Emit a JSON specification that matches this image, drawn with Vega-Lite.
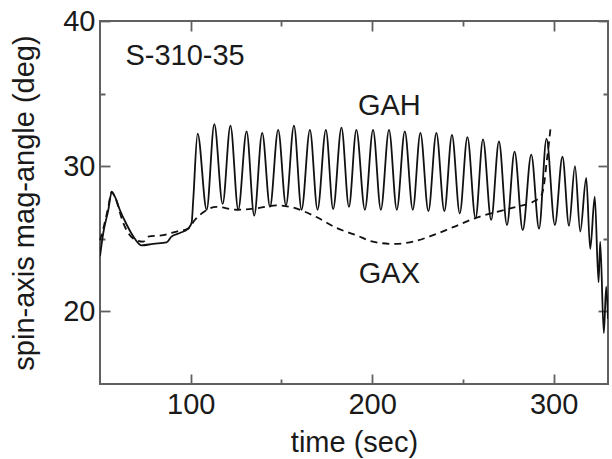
{
  "$schema": "https://vega.github.io/schema/vega-lite/v6.json",
  "width": 508,
  "height": 363,
  "autosize": {"type": "none"},
  "padding": {"left": 100, "top": 21, "right": 4, "bottom": 75},
  "background": "white",
  "config": {
    "view": {"stroke": "#606060", "strokeWidth": 2},
    "font": "Liberation Sans",
    "axis": {
      "domain": false,
      "grid": false,
      "tickColor": "#606060",
      "tickWidth": 1.8,
      "tickSize": 10,
      "offset": -10,
      "tickDash": {"condition": {"test": "datum.value % 10 === 0 && datum.value % 100 !== 50 && datum.value !== 25 && datum.value !== 35", "value": []}, "value": [0, 5, 5]},
      "labelFont": "Liberation Sans",
      "labelFontSize": 29,
      "labelColor": "#1a1a1a",
      "titleFont": "Liberation Sans",
      "titleFontSize": 29,
      "titleFontWeight": "normal",
      "titleColor": "#1a1a1a"
    }
  },
  "resolve": {"axis": {"x": "independent", "y": "independent"}},
  "datasets": {
    "gah": [
      {"t": 50, "v": 23.8}, {"t": 51.8, "v": 25.4}, {"t": 54.6, "v": 27.0}, {"t": 56.4, "v": 28.2},
      {"t": 58.2, "v": 27.9}, {"t": 60.9, "v": 27.0}, {"t": 64.6, "v": 26.0}, {"t": 69.2, "v": 25.0},
      {"t": 72.9, "v": 24.55}, {"t": 79.3, "v": 24.65}, {"t": 86.7, "v": 24.75}, {"t": 89.4, "v": 25.15},
      {"t": 94, "v": 25.4}, {"t": 98.6, "v": 25.7}, {"t": 100.5, "v": 26.1}, {"t": 101.4, "v": 27.7},
      {"t": 103.8, "v": 32.25}, {"t": 108.8, "v": 27.0}, {"t": 113.0, "v": 32.9}, {"t": 117.6, "v": 27.4},
      {"t": 121.9, "v": 32.8}, {"t": 126.2, "v": 27.0}, {"t": 130.8, "v": 32.4}, {"t": 135.0, "v": 26.6},
      {"t": 139.4, "v": 32.3}, {"t": 143.7, "v": 27.2}, {"t": 148.2, "v": 32.5}, {"t": 152.5, "v": 27.3},
      {"t": 156.9, "v": 32.8}, {"t": 161.1, "v": 27.0}, {"t": 165.7, "v": 32.5}, {"t": 169.9, "v": 27.0},
      {"t": 174.5, "v": 32.5}, {"t": 178.5, "v": 27.05}, {"t": 183.1, "v": 32.65}, {"t": 187.2, "v": 27.2},
      {"t": 191.3, "v": 32.5}, {"t": 196.0, "v": 27.0}, {"t": 200.5, "v": 32.5}, {"t": 204.8, "v": 27.0},
      {"t": 209.3, "v": 32.5}, {"t": 213.6, "v": 27.0}, {"t": 218.0, "v": 32.4}, {"t": 222.4, "v": 27.0},
      {"t": 226.6, "v": 32.3}, {"t": 231.0, "v": 26.9}, {"t": 235.4, "v": 32.3}, {"t": 239.8, "v": 26.9},
      {"t": 244.0, "v": 32.15}, {"t": 248.3, "v": 26.75}, {"t": 252.5, "v": 32.0}, {"t": 257.0, "v": 26.4},
      {"t": 261.1, "v": 31.85}, {"t": 265.6, "v": 26.3}, {"t": 269.9, "v": 31.7}, {"t": 274.3, "v": 25.95},
      {"t": 278.5, "v": 31.0}, {"t": 283.0, "v": 25.6}, {"t": 287.7, "v": 30.8}, {"t": 292.0, "v": 25.7},
      {"t": 296.1, "v": 31.9}, {"t": 300.7, "v": 25.95}, {"t": 304.9, "v": 30.65}, {"t": 308.5, "v": 25.9},
      {"t": 311.8, "v": 30.0}, {"t": 314.7, "v": 25.5}, {"t": 318.0, "v": 29.2}, {"t": 320.2, "v": 24.3},
      {"t": 322.7, "v": 27.9}, {"t": 324.8, "v": 22.0}, {"t": 325.7, "v": 24.8}, {"t": 327.7, "v": 18.5},
      {"t": 329.0, "v": 21.7}, {"t": 330, "v": 19.5}
    ],
    "gax": [
      {"t": 50, "v": 24.9}, {"t": 52, "v": 25.8}, {"t": 54.6, "v": 27.2}, {"t": 56.4, "v": 28.25},
      {"t": 58.2, "v": 27.9}, {"t": 62.8, "v": 26.1}, {"t": 68.4, "v": 25.0}, {"t": 73.8, "v": 24.8},
      {"t": 76.6, "v": 25.15}, {"t": 84.9, "v": 25.25}, {"t": 92.2, "v": 25.5}, {"t": 98.6, "v": 25.7},
      {"t": 102.3, "v": 26.3}, {"t": 107.8, "v": 26.9}, {"t": 114.2, "v": 27.2}, {"t": 125.2, "v": 27.0},
      {"t": 136.3, "v": 27.1}, {"t": 147.3, "v": 27.3}, {"t": 154.7, "v": 27.2}, {"t": 169.3, "v": 26.5},
      {"t": 180.3, "v": 25.75}, {"t": 191.2, "v": 25.25}, {"t": 200.4, "v": 24.8}, {"t": 211.8, "v": 24.65},
      {"t": 222.6, "v": 24.8}, {"t": 233.6, "v": 25.25}, {"t": 244.6, "v": 25.8}, {"t": 257.5, "v": 26.45},
      {"t": 268.5, "v": 26.85}, {"t": 279.5, "v": 27.2}, {"t": 288.7, "v": 27.55}, {"t": 293.3, "v": 28.0},
      {"t": 295.1, "v": 29.05}, {"t": 296.1, "v": 30.2}, {"t": 297.0, "v": 31.1}, {"t": 298.3, "v": 32.6}
    ],
    "title": [
      {"t": 64, "v": 36.97, "label": "S-310-35"}
    ],
    "labels": [
      {"t": 209.5, "v": 33.53, "label": "GAH"},
      {"t": 209.5, "v": 21.96, "label": "GAX"}
    ]
  },
  "layer": [
    {
      "data": {"name": "gah"},
      "mark": {"type": "line", "color": "#111", "strokeWidth": 1.8, "interpolate": "monotone", "clip": true},
      "encoding": {
        "x": {
          "field": "t", "type": "quantitative",
          "scale": {"domain": [50, 330], "nice": false, "zero": false},
          "axis": {
            "orient": "bottom",
            "values": [100, 150, 200, 250, 300],
            "labelExpr": "datum.value % 100 === 0 ? datum.label : ''",
            "labelPadding": 6,
            "title": "time (sec)",
            "titleX": 254,
            "titleY": 77,
            "titleBaseline": "alphabetic",
            "titleAlign": "center"
          }
        },
        "y": {
          "field": "v", "type": "quantitative",
          "scale": {"domain": [15, 40], "nice": false, "zero": false},
          "axis": {
            "orient": "left",
            "values": [20, 25, 30, 35, 40],
            "labelExpr": "datum.value % 10 === 0 ? datum.label : ''",
            "labelPadding": 5,
            "title": "spin-axis mag-angle (deg)",
            "titleAngle": -90,
            "titleX": -86,
            "titleY": 181.5,
            "titleAlign": "center",
            "titleBaseline": "middle"
          }
        }
      }
    },
    {
      "data": {"name": "gax"},
      "mark": {"type": "line", "color": "#111", "strokeWidth": 1.8, "strokeDash": [7, 5], "interpolate": "monotone"},
      "encoding": {
        "x": {
          "field": "t", "type": "quantitative",
          "axis": {"orient": "top", "values": [100, 150, 200, 250, 300], "labels": false, "title": null}
        },
        "y": {
          "field": "v", "type": "quantitative",
          "axis": {"orient": "right", "values": [20, 25, 30, 35, 40], "labels": false, "title": null}
        }
      }
    },
    {
      "data": {"name": "title"},
      "mark": {"type": "text", "fontSize": 29, "font": "Liberation Sans", "color": "#1a1a1a", "baseline": "alphabetic", "align": "left"},
      "encoding": {
        "x": {"field": "t", "type": "quantitative", "axis": null},
        "y": {"field": "v", "type": "quantitative", "axis": null},
        "text": {"field": "label"}
      }
    },
    {
      "data": {"name": "labels"},
      "mark": {"type": "text", "fontSize": 29, "font": "Liberation Sans", "color": "#1a1a1a", "baseline": "alphabetic", "align": "center"},
      "encoding": {
        "x": {"field": "t", "type": "quantitative", "axis": null},
        "y": {"field": "v", "type": "quantitative", "axis": null},
        "text": {"field": "label"}
      }
    }
  ]
}
